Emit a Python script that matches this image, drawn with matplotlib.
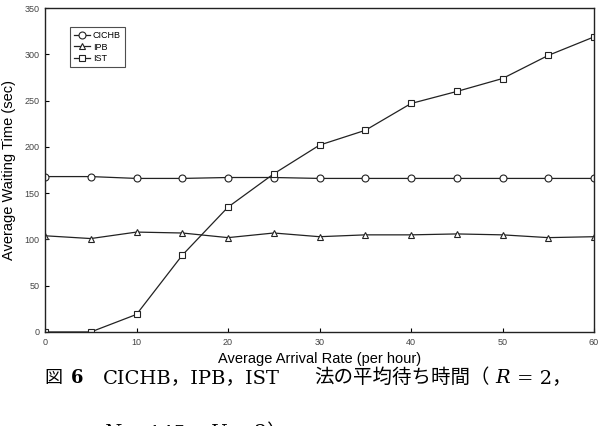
import matplotlib
matplotlib.use("Agg")
import matplotlib.pyplot as plt

# =========================
# Data
# =========================
arrival_rate = [0, 5, 10, 15, 20, 25, 30, 35, 40, 45, 50, 55, 60]
cichb = [168, 168, 166, 166, 167, 167, 166, 166, 166, 166, 166, 166, 166]
ipb = [104, 101, 108, 107, 102, 107, 103, 105, 105, 106, 105, 102, 103]
ist = [0, 0, 19, 83, 135, 171, 202, 218, 247, 260, 274, 299, 319]

series_names = ["CICHB", "IPB", "IST"]
x_ticks = [0, 10, 20, 30, 40, 50, 60]
y_ticks = [0, 50, 100, 150, 200, 250, 300, 350]

tick_font = ["Liberation Sans Narrow", "Liberation Sans", "DejaVu Sans"]
label_font = ["Liberation Sans", "DejaVu Sans"]
cap_font = ["DejaVu Serif", "Noto Sans CJK JP"]

W, H = 611, 426
fig = plt.figure(figsize=(W / 100, H / 100), dpi=100)
ax = fig.add_axes([0.0737, 0.2207, 0.8985, 0.760])

style = dict(color="#222222", lw=0.9, ms=5, mfc="white", mec="#222222", mew=0.8)
ax.plot(arrival_rate, cichb, marker="o", label=series_names[0], **style)
ax.plot(arrival_rate, ipb, marker="^", label=series_names[1], **style)
ax.plot(arrival_rate, ist, marker="s", label=series_names[2], **style)

ax.set_xlim(0, 60)
ax.set_ylim(0, 350)
ax.set_xticks(x_ticks)
ax.set_yticks(y_ticks)
ax.tick_params(direction="in", length=3, width=0.8, labelsize=6.5,
               labelcolor="#444444", pad=4)
for lab in ax.get_xticklabels() + ax.get_yticklabels():
    lab.set_family(tick_font)
for s in ax.spines.values():
    s.set_linewidth(1.0)
    s.set_color("#222222")

ax.set_xlabel("Average Arrival Rate (per hour)", fontsize=10.5,
              family=label_font, labelpad=4)
ax.set_ylabel("Average Waiting Time (sec)", fontsize=10.5,
              family=label_font, labelpad=6)

leg = ax.legend(loc="upper left", bbox_to_anchor=(0.038, 0.955),
                frameon=True, fancybox=False, handlelength=1.8,
                handletextpad=0.3, borderpad=0.4, labelspacing=0.3,
                prop={"family": tick_font, "size": 6.5})
leg.get_frame().set_edgecolor("#222222")
leg.get_frame().set_linewidth(0.8)


# =========================
# Caption helper: lay pieces one after another
# =========================
def put_line(pieces, x0, y_px, size=14):
    """Draw text pieces left to right, starting at pixel x0."""
    renderer = fig.canvas.get_renderer()
    x = x0
    for txt, kw, gap in pieces:
        t = fig.text(x / W, 1 - y_px / H, txt, fontsize=size,
                     family=cap_font, va="center", **kw)
        bb = t.get_window_extent(renderer)
        x = bb.x1 + gap


line1 = [
    ("図", {}, 0),
    ("6", {"weight": "bold"}, 0),
    ("CICHB，IPB，IST", {}, 34),
    ("法の平均待ち時間（", {}, 6),
    ("R", {"style": "italic"}, 7),
    ("= 2，", {}, 0),
]
line2 = [
    ("N", {"style": "italic"}, 6),
    ("= 145，", {}, 4),
    ("U", {"style": "italic"}, 6),
    ("= 2）", {}, 0),
]
put_line(line1[:1], 44, 378, size=13)
put_line(line1[1:2], 71, 378, size=13)
put_line(line1[2:], 103, 378)
put_line(line2, 103, 433)

fig.savefig("out.png", dpi=100)
